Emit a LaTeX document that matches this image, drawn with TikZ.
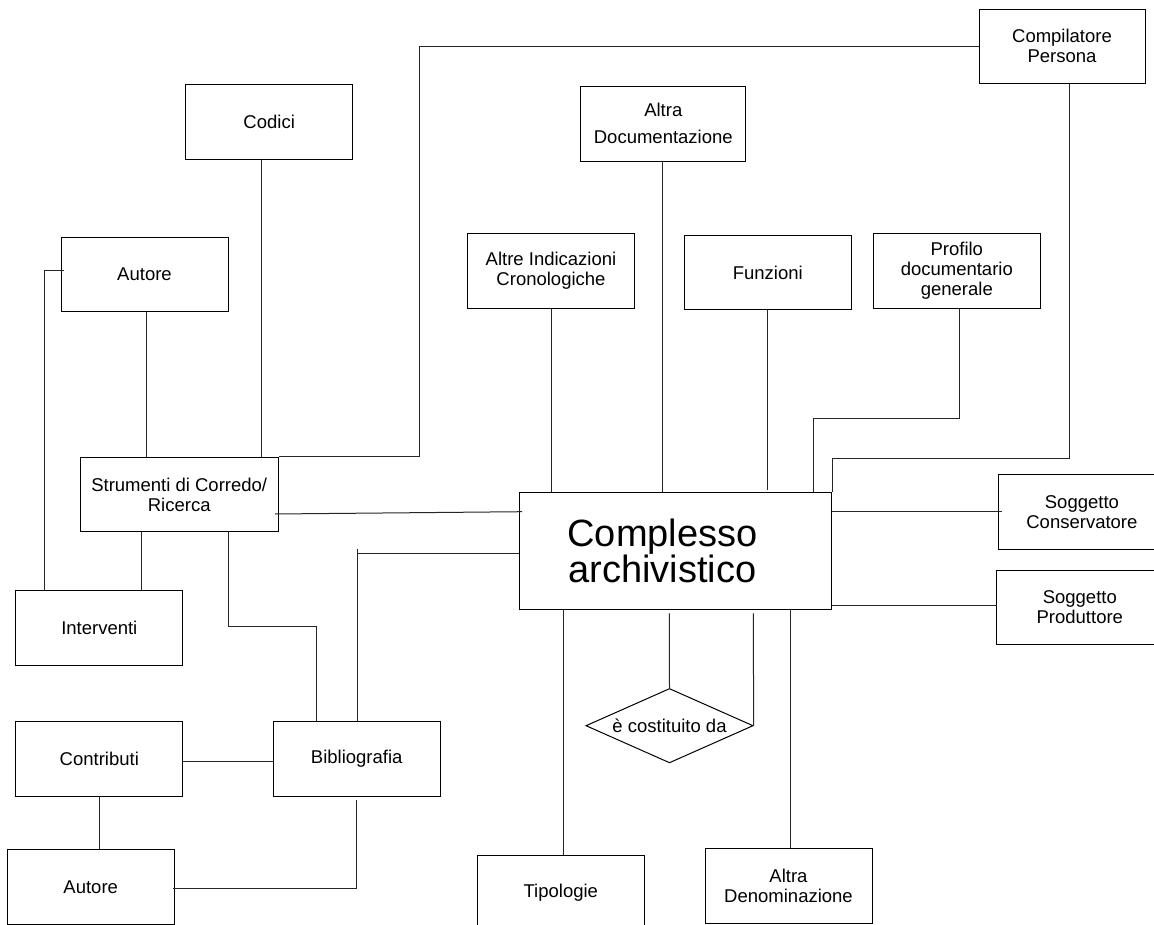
\documentclass[tikz,border=0pt]{standalone}
\usepackage{fontspec}
\setmainfont{Liberation Sans}
\usetikzlibrary{shapes.geometric}
\tikzset{
  ent/.style={draw=black, line width=1pt, inner sep=0pt, minimum width=167pt, minimum height=74.5pt, align=center, font=\fontsize{18.5}{20}\selectfont},
  rel/.style={diamond, draw=black, line width=1pt, inner sep=0pt, aspect=2.25, minimum width=167.3pt, minimum height=74.4pt, align=center, font=\fontsize{18.5}{20}\selectfont},
  conn/.style={draw=black!85, line width=1pt}
}
\begin{document}
\begin{tikzpicture}[x=1pt,y=-1pt]
\useasboundingbox (0,0) rectangle (1154,925);
\fill[white] (0,0) rectangle (1154,925);
\clip (0,0) rectangle (1154,925);

% entities
\node[ent, minimum width=166pt, minimum height=74pt] (comp) at (1062,46.3) {Compilatore\\Persona};
\node[ent] (codici) at (269.2,121.8) {Codici};
\node[ent, minimum width=165.3pt, font=\fontsize{18.5}{27}\selectfont] (altradoc) at (663.3,123.8) {Altra\\Documentazione};
\node[ent] (autore1) at (144.5,274.7) {Autore};
\node[ent] (altreind) at (551,270.8) {Altre Indicazioni\\Cronologiche};
\node[ent] (funzioni) at (767.8,272.5) {Funzioni};
\node[ent, minimum width=166.4pt] (profilo) at (956.8,271) {Profilo\\documentario\\generale};
\node[ent, minimum width=198.3pt] (strumenti) at (179.2,494.5) {Strumenti di Corredo/\\Ricerca};
\node[ent, minimum width=312.4pt, minimum height=116.3pt, font=\fontsize{38}{36}\selectfont] (complesso) at (675.5,550.9) {\hspace*{-26pt}Complesso\\\hspace*{-26pt}archivistico};
\node[ent] (sogcons) at (1081.9,511.8) {Soggetto\\Conservatore};
\node[ent, minimum height=74pt] (sogprod) at (1079.8,607.5) {Soggetto\\Produttore};
\node[ent, minimum width=166.7pt] (interventi) at (99.3,628.2) {Interventi};
\node[rel] (costituito) at (669.5,725.7) {è costituito da};
\node[ent, minimum width=166.7pt, minimum height=74.6pt] (contributi) at (99.3,759) {Contributi};
\node[ent, minimum width=166.7pt, minimum height=74.6pt] (biblio) at (356.7,759) {Bibliografia};
\node[ent, minimum width=166.7pt, minimum height=74.6pt] (autore2) at (90.7,887) {Autore};
\node[ent] (tipologie) at (560.8,892.5) {Tipologie};
\node[ent, minimum height=74.7pt] (altraden) at (788.5,885.7) {Altra\\Denominazione};

% helper coordinates
\coordinate (k1) at (419.3,46.3);
\coordinate (sb) at (316.3,626.7);
\coordinate (cb) at (357.7,553.7);
\coordinate (p1) at (813.9,418.3);
\coordinate (c2) at (832.3,458.3);
\coordinate (sc) at (1001.7,511.7);
\coordinate (sp) at (996.7,605);
\coordinate (dtop) at (669.3,613.3);
\coordinate (dright) at (753.3,613.3);

% connectors
\draw[conn] (comp.west) -- (k1) |- (strumenti.north east);
\draw[conn] ([xshift=-7.7pt]codici.south) -- ([xshift=-7.7pt]codici.south |- strumenti.north);
\draw[conn] ([xshift=2.2pt]autore1.south) -- ([xshift=2.2pt]autore1.south |- strumenti.north);
\draw[conn] ([xshift=3pt,yshift=3.7pt]autore1.west) -| ([xshift=-55.3pt]interventi.north);
\draw[conn] ([xshift=-37.5pt]strumenti.south) -- ([xshift=-37.5pt]strumenti.south |- interventi.north);
\draw[conn] ([xshift=49.5pt,yshift=1.5pt]strumenti.south) |- (sb) -- (sb |- biblio.north);
\draw[conn] ([xshift=-4pt,yshift=-19.5pt]strumenti.east) -- ([xshift=3.4pt,yshift=39.2pt]complesso.west);
\draw[conn] (complesso.west |- cb) -- (cb) -- (cb |- biblio.north);
\draw[conn] (cb) -- ++(0,-4.4);
\draw[conn] (altreind.south) -- (altreind.south |- complesso.north);
\draw[conn] ([xshift=-0.6pt]altradoc.south) -- ([xshift=-0.6pt]altradoc.south |- complesso.north);
\draw[conn] ([xshift=-0.6pt]funzioni.south) -- ([xshift=-0.6pt,yshift=2pt]funzioni.south |- complesso.north);
\draw[conn] ([xshift=2.5pt]profilo.south) |- (p1) -- (p1 |- complesso.north);
\draw[conn] ([xshift=7pt]comp.south) |- (c2) -- (c2 |- complesso.north);
\draw[conn] (sc -| complesso.east) -- (sc);
\draw[conn] (sp -| complesso.east) -- (sp);
\draw[conn] ([xshift=2.9pt]tipologie.north) -- ([xshift=2.9pt]tipologie.north |- complesso.south);
\draw[conn] (costituito.north) -- (dtop);
\draw[conn] (costituito.east) -- (dright);
\draw[conn] ([xshift=1.5pt]altraden.north) -- ([xshift=1.5pt]altraden.north |- complesso.south);
\draw[conn] ([yshift=-2pt]contributi.east) -- ([yshift=-2pt]biblio.west);
\draw[conn] ([xshift=0.4pt]contributi.south) -- ([xshift=0.4pt]contributi.south |- autore2.north);
\draw[conn] ([yshift=-3pt]biblio.south) |- ([xshift=-1.7pt,yshift=-1.3pt]autore2.east);
\end{tikzpicture}
\end{document}
